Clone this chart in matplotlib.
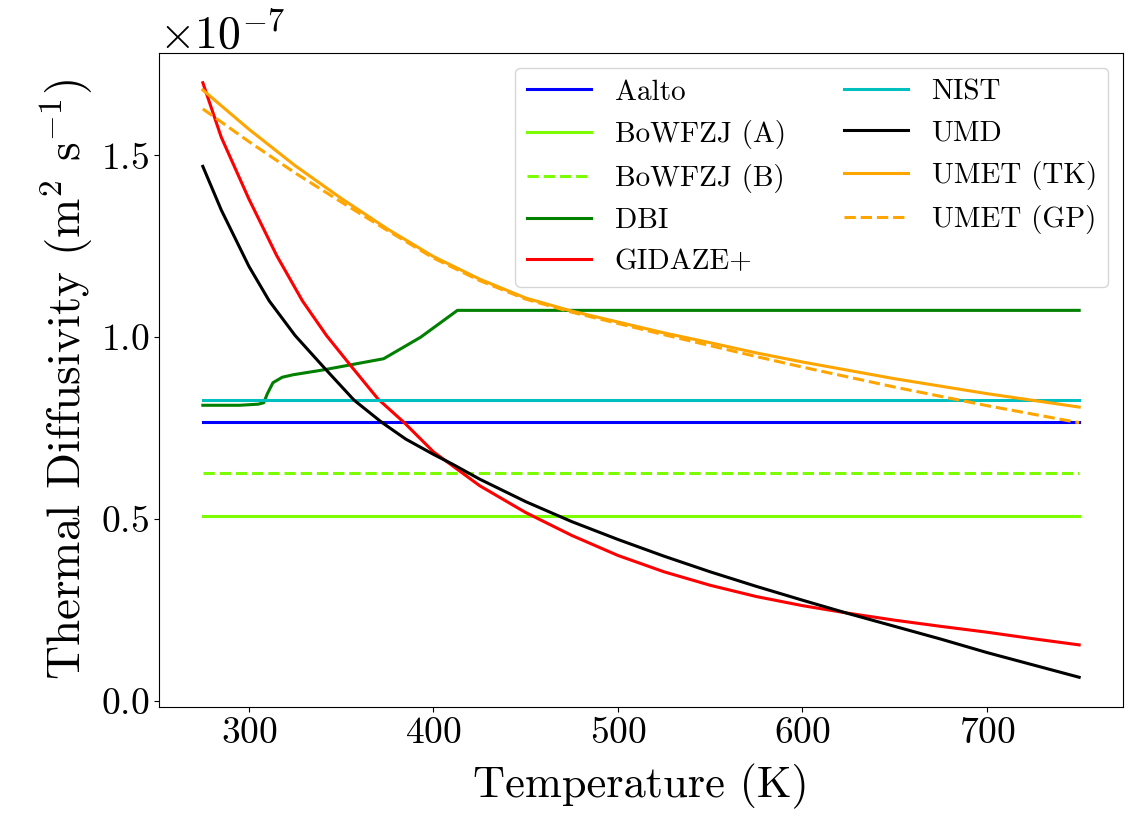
import matplotlib
matplotlib.use("Agg")
import matplotlib.pyplot as plt
import numpy as np

plt.rcParams['font.family'] = 'serif'
plt.rcParams['font.serif'] = ['cmr10', 'DejaVu Serif']
plt.rcParams['mathtext.fontset'] = 'cm'
plt.rcParams['axes.formatter.use_mathtext'] = True
plt.rcParams['axes.unicode_minus'] = False

# temperatures (K), diffusivities in 1e-7 m^2/s
T_flat = [275, 750]
aalto = [0.766, 0.766]
nist = [0.827, 0.827]
bowfzj_a = [0.508, 0.508]
bowfzj_b = [0.627, 0.627]

T_dbi = [275, 295, 305, 308, 310, 313, 318, 324, 340, 373, 393, 413, 750]
dbi = [0.813, 0.813, 0.816, 0.82, 0.845, 0.875, 0.89, 0.897, 0.91, 0.941, 1.00, 1.074, 1.074]

T_umd = [275, 285, 300, 311, 325, 341, 357, 372, 385, 400, 410, 425, 450, 475, 500, 525,
         550, 575, 600, 625, 650, 675, 700, 725, 750]
umd = [1.47, 1.35, 1.195, 1.10, 1.005, 0.915, 0.827, 0.766, 0.72, 0.678, 0.652, 0.61, 0.548,
       0.493, 0.444, 0.398, 0.355, 0.315, 0.277, 0.24, 0.205, 0.17, 0.133, 0.099, 0.065]

T_gid = [275, 285, 300, 315, 329, 342, 355, 370, 384, 400, 425, 450, 475, 500, 525, 550,
         575, 600, 625, 650, 675, 700, 725, 750]
gidaze = [1.70, 1.55, 1.38, 1.225, 1.10, 1.005, 0.923, 0.83, 0.766, 0.685, 0.592, 0.518,
          0.455, 0.400, 0.355, 0.318, 0.287, 0.262, 0.241, 0.222, 0.205, 0.189, 0.171, 0.154]

T_umet = [275, 300, 325, 350, 375, 400, 425, 450, 475, 500, 525, 550, 575, 600, 650, 700, 750]
umet_tk = [1.68, 1.572, 1.472, 1.382, 1.298, 1.222, 1.160, 1.108, 1.072, 1.042, 1.012, 0.985,
           0.957, 0.932, 0.886, 0.845, 0.808]
umet_gp = [1.628, 1.538, 1.452, 1.372, 1.294, 1.218, 1.156, 1.105, 1.069, 1.038, 1.007, 0.977,
           0.947, 0.918, 0.863, 0.812, 0.765]

fig, ax = plt.subplots(figsize=(11.33, 8.24), dpi=100)
fig.subplots_adjust(left=159/1133, right=1123/1133, bottom=1-707/824, top=1-53/824)

sc = 1e-7
lw = 2.2
ax.plot(T_flat, np.array(aalto) * sc, color='blue', lw=lw, label='Aalto')
ax.plot(T_flat, np.array(bowfzj_a) * sc, color='lawngreen', lw=lw, label='BoWFZJ (A)')
ax.plot(T_flat, np.array(bowfzj_b) * sc, color='lawngreen', lw=lw, ls='--', label='BoWFZJ (B)')
ax.plot(T_dbi, np.array(dbi) * sc, color='green', lw=lw, label='DBI')
ax.plot(T_gid, np.array(gidaze) * sc, color='red', lw=lw, label='GIDAZE+')
ax.plot(T_flat, np.array(nist) * sc, color='c', lw=lw, label='NIST')
ax.plot(T_umd, np.array(umd) * sc, color='black', lw=lw, label='UMD')
ax.plot(T_umet, np.array(umet_tk) * sc, color='orange', lw=lw, label='UMET (TK)')
ax.plot(T_umet, np.array(umet_gp) * sc, color='orange', lw=lw, ls='--', label='UMET (GP)')

ax.set_yticks([0, 0.5e-7, 1.0e-7, 1.5e-7])
ax.set_xlabel('Temperature (K)', fontsize=32, labelpad=10)
ax.set_ylabel(r'Thermal Diffusivity (m$^2$ s$^{-1}$)', fontsize=34)
ax.tick_params(labelsize=27)
ax.yaxis.get_offset_text().set_fontsize(33)
ax.legend(ncol=2, fontsize=21, loc='upper right', handlelength=2.2)

fig.savefig('out.png', dpi=100)
